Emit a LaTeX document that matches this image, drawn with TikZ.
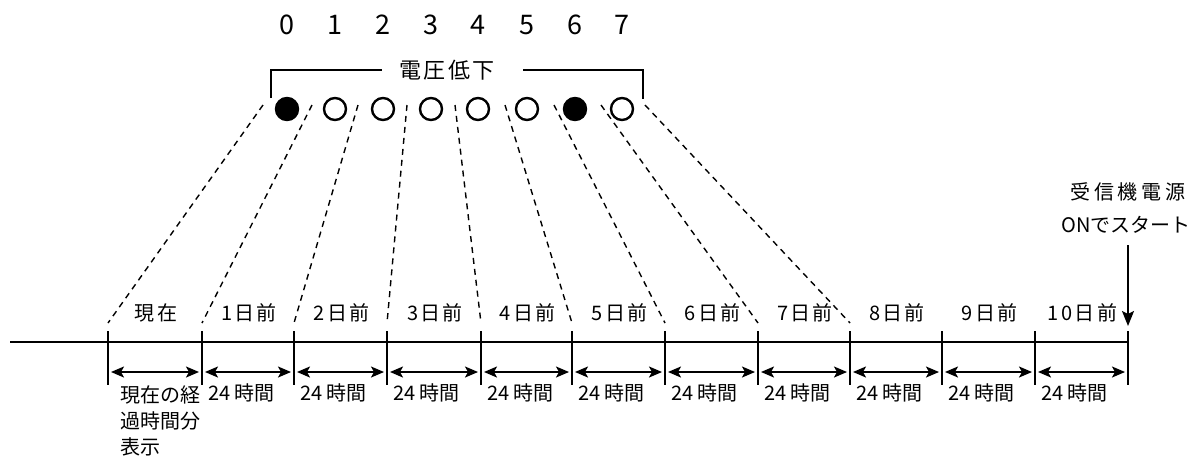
\documentclass[tikz,border=0pt]{standalone}
\usepackage{fontspec}
\setmainfont{Noto Sans CJK JP}
\newfontfamily\widejp[LetterSpace=12]{Noto Sans CJK JP}
\newfontfamily\widerjp[LetterSpace=18]{Noto Sans CJK JP}
\usetikzlibrary{arrows.meta,calc}
\begin{document}
\begin{tikzpicture}[x=1pt,y=-1pt,
  lab/.style={font=\fontsize{20}{24}\selectfont, inner sep=0pt},
  wlab/.style={font=\fontsize{20}{24}\selectfont\widejp, inner sep=0pt},
  dig/.style={font=\fontsize{27}{30}\selectfont, inner sep=0pt},
  tickline/.style={line width=1.8pt},
  dsh/.style={line width=1.4pt, dash pattern=on 6pt off 5pt},
  dbl/.style={line width=1.8pt, {Stealth[length=13pt,width=11pt,inset=3pt]}-{Stealth[length=13pt,width=11pt,inset=3pt]}},
  dot/.style={circle, draw, line width=2.4pt, minimum size=22pt, inner sep=0pt},
  fdot/.style={dot, fill=black}]
\useasboundingbox (0,0) rectangle (1202,459);

% ticks
\foreach \i/\x in {0/108,1/202,2/294,3/387,4/481,5/572,6/665,7/758,8/850,9/942,10/1035,11/1128}{
  \coordinate (t\i) at (\x,331);
  \coordinate (b\i) at (\x,385);
  \coordinate (d\i) at (\x,323);
}
\coordinate (L) at (10,342);
\coordinate (R) at (1128,342);
\draw[tickline] (L) -- (R);
\foreach \i in {0,...,11}{ \draw[tickline] (t\i) -- (b\i); }

% double arrows and labels
\foreach \i/\j in {0/1,1/2,2/3,3/4,4/5,5/6,6/7,7/8,8/9,9/10,10/11}{
  \draw[dbl] ([xshift=3pt]t\i |- 0,372) -- ([xshift=-3pt]t\j |- 0,372);
}
\foreach \i/\j/\t in {0/1/現在,1/2/1日前,2/3/2日前,3/4/3日前,4/5/4日前,5/6/5日前,6/7/6日前,7/8/7日前,8/9/8日前,9/10/9日前,10/11/10日前}{
  \node[wlab] (day\i) at ($(t\i)!0.5!(t\j) + (1,-18)$) {\t};
}
\foreach \i in {1,...,10}{
  \node[lab, anchor=west] (h\i) at ([xshift=6pt]t\i |- 0,393) {24 時間};
}
\node[lab, anchor=west] (n1) at (120,395) {現在の経};
\node[lab, anchor=west] (n2) at (120,421) {過時間分};
\node[lab, anchor=west] (n3) at (120,447) {表示};

% start arrow
\node[lab, font=\fontsize{20}{24}\selectfont\widerjp] (s1) at (1128,192) {受信機電源};
\node[lab] (s2) at (1126,225) {ONでスタート};
\coordinate (aTop) at (1128,245);
\coordinate (aBot) at (1128,326);
\draw[line width=1.8pt, -{Stealth[length=15pt,width=12pt,inset=3pt]}] (aTop) -- (aBot);

% circles and digits
\foreach \i/\x in {0/287,1/335,2/383,3/431,4/478,5/527,6/575,7/622}{
  \node[dig] (k\i) at (\x,25) {\i};
}
\foreach \i/\x in {1/335,2/383,3/431,4/478,5/527,7/622}{
  \node[dot] (c\i) at (\x,109) {};
}
\node[fdot] (c0) at (287,109) {};
\node[fdot] (c6) at (575,109) {};

% bracket
\node[lab, font=\fontsize{22}{26}\selectfont\widejp] (vd) at (447,70) {電圧低下};
\coordinate (bl) at (271,98);
\coordinate (blt) at (271,70);
\coordinate (bla) at (382,70);
\coordinate (brb) at (523,70);
\coordinate (brt) at (643,70);
\coordinate (br) at (643,99);
\draw[tickline] (bl) -- (blt) -- (bla);
\draw[tickline] (brb) -- (brt) -- (br);

% dashed connectors
\foreach \i/\x in {0/263,1/312,2/358,3/407,4/455,5/505,6/554,7/601,8/645}{
  \coordinate (m\i) at (\x,105);
  \draw[dsh] (m\i) -- (d\i);
}
\end{tikzpicture}
\end{document}
